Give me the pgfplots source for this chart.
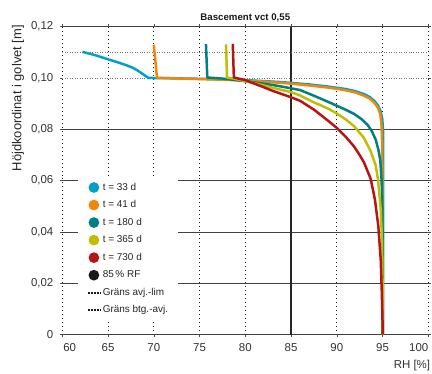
\documentclass[border=0pt]{standalone}
\usepackage{pgfplots}
\pgfplotsset{compat=1.18}
\usepackage{fontspec}
\setmainfont{Liberation Sans}
\definecolor{c33}{RGB}{0,160,200}
\definecolor{c41}{RGB}{240,135,10}
\definecolor{c180}{RGB}{0,128,128}
\definecolor{c365}{RGB}{192,190,0}
\definecolor{c730}{RGB}{185,20,20}
\begin{document}
\begin{tikzpicture}
\useasboundingbox (-62.3bp,-39.3bp) rectangle ++(432bp,374bp);
\begin{axis}[name=ax, at={(0,0)}, anchor=south west, scale only axis, width=366bp, height=308bp,
  xmin=60, xmax=100, ymin=0, ymax=0.12,
  xtick={60,65,70,75,80,85,90,95,100},
  xticklabels={\makebox[0pt][l]{\hspace*{1pt}60},65,70,75,80,85,90,95,\makebox[0pt][r]{100}},
  ytick={0,0.02,0.04,0.06,0.08,0.12},
  yticklabels={0,{0,02},{0,04},{0,06},{0,08},{0,12}},
  extra y ticks={0.10}, extra y tick labels={0{,}10},
  extra y tick style={grid=none},
  xmajorgrids, ymajorgrids,
  x grid style={black!90, line width=0.8pt, dash pattern=on 0.8pt off 3.2pt},
  y grid style={black!75, line width=0.8pt},
  axis line style={draw=none},
  tick align=outside, major tick length=2.5pt,
  tick style={black!70, line width=0.6pt},
  ticklabel style={font=\fontsize{11.5}{13}\selectfont, text=black!80},
  xticklabel style={yshift=-3pt},
  yticklabel style={xshift=-3pt},
  title={Bascement vct 0,55},
  every axis title/.style={at={(0.5,1)}, anchor=south, inner sep=0pt, yshift=5pt, font=\bfseries\fontsize{9.7}{11}\selectfont, text=black!90},
  xlabel={RH [\%]},
  every axis x label/.style={at={(axis description cs:1,0)}, anchor=north east, inner sep=0pt, yshift=-25pt, xshift=2pt, font=\fontsize{11.5}{13}\selectfont, text=black!80},
  ylabel={Höjdkoordinat i golvet [m]},
  every axis y label/.style={at={(axis description cs:-0.104,1.006)}, rotate=90, anchor=south east, inner sep=0pt, font=\fontsize{13}{15}\selectfont, text=black!85},
  legend style={at={(axis cs:61.7,0.0615)}, anchor=north west, draw=none, fill=white,
    inner xsep=9pt, inner ysep=4pt, font=\fontsize{10}{12}\selectfont, text=black!85,
    row sep=4.6pt, nodes={inner sep=1pt, text height=8pt, text depth=3pt}},
  legend cell align=left,
]
\addplot[black!85, line width=1.3pt, forget plot] coordinates {(85,0) (85,0.12)};
\addplot[black!55, line width=0.9pt, dash pattern=on 1pt off 1.5pt, forget plot] coordinates {(60,0.11) (100,0.11)};
\addplot[black!55, line width=0.9pt, dash pattern=on 1pt off 1.5pt, forget plot] coordinates {(60,0.10) (100,0.10)};

\addplot[c33, line width=2.5pt, line join=round, legend image code/.code={\path[fill=c33, draw=none] (0pt,0pt) circle (5.4pt);}] coordinates {
(62.2,0.1102) (63.5,0.1090) (65.0,0.1073) (66.0,0.1062) (67.0,0.1050) (67.7,0.1040) (68.2,0.1030) (68.7,0.1018) (69.1,0.1008) (69.4,0.1001) (70,0.1000) (72,0.0999) (75,0.0997) (78,0.0994) (80,0.0992) (82,0.0988) (84,0.0984) (85,0.0981) (87,0.0975) (89,0.0967) (90,0.0962) (91,0.0957) (92,0.0949) (93,0.0937) (93.6,0.0926) (94.1,0.0911) (94.5,0.0893) (94.8,0.0870) (94.97,0.0840) (95.05,0.0800) (95.05,0.0700) (95.05,0)};
\addlegendentry{t = 33 d}
\addplot[c41, line width=2.5pt, line join=round, legend image code/.code={\path[fill=c41, draw=none] (0pt,0pt) circle (5.4pt);}] coordinates {
(70.0,0.1130) (70.35,0.1001) (72,0.0999) (75,0.0996) (78,0.0993) (80,0.0990) (82,0.0986) (84,0.0981) (85,0.0978) (87,0.0971) (89,0.0963) (90,0.0958) (91,0.0952) (92,0.0944) (93,0.0931) (93.6,0.0920) (94.1,0.0904) (94.5,0.0884) (94.75,0.0860) (94.88,0.0820) (94.95,0.0750) (94.98,0.0600) (94.98,0)};
\addlegendentry{t = 41 d}
\addplot[c180, line width=2.5pt, line join=round, legend image code/.code={\path[fill=c180, draw=none] (0pt,0pt) circle (5.4pt);}] coordinates {
(75.7,0.1132) (75.85,0.1002) (77.5,0.0998) (79,0.0992) (81,0.0983) (83,0.0973) (85,0.0960) (86,0.0953) (87.5,0.0931) (89,0.0908) (90,0.0892) (91,0.0876) (91.9,0.0860) (92.7,0.0840) (93.33,0.0819) (93.8,0.0795) (94.25,0.0760) (94.55,0.0720) (94.75,0.0680) (94.9,0.0600) (94.97,0.0500) (95.0,0.0400) (95.0,0)};
\addlegendentry{t = 180 d}
\addplot[c365, line width=2.5pt, line join=round, legend image code/.code={\path[fill=c365, draw=none] (0pt,0pt) circle (5.4pt);}] coordinates {
(77.9,0.1131) (78.0,0.1002) (79,0.0996) (80.5,0.0984) (81.8,0.0973) (83,0.0962) (85,0.0945) (86,0.0932) (87.5,0.0905) (89,0.0882) (90,0.0862) (91,0.0838) (91.9,0.0812) (92.96,0.0767) (93.7,0.0715) (94.25,0.0660) (94.5,0.0605) (94.8,0.0490) (94.95,0.0360) (95.0,0.0200) (95.0,0)};
\addlegendentry{t = 365 d}
\addplot[c730, line width=2.5pt, line join=round, legend image code/.code={\path[fill=c730, draw=none] (0pt,0pt) circle (5.4pt);}] coordinates {
(78.63,0.1133) (78.75,0.1002) (80,0.0992) (81.8,0.0967) (83,0.0950) (85,0.0925) (86,0.0911) (87.5,0.0877) (89,0.0835) (90,0.0806) (91,0.0770) (91.87,0.0734) (92.5,0.0700) (92.96,0.0672) (93.7,0.0608) (94.17,0.0526) (94.54,0.0422) (94.8,0.0292) (94.92,0.0164) (95.0,0.0050) (95.0,0)};
\addlegendentry{t = 730 d}
\addlegendimage{legend image code/.code={\path[fill=black!90, draw=none] (0pt,0pt) circle (5.4pt);}}
\addlegendentry{85\,\% RF}
\addlegendimage{legend image code/.code={\draw[black!90, line width=1.8pt, dash pattern=on 1.8pt off 1.2pt] (-6pt,0pt) -- (7pt,0pt);}}
\addlegendentry{Gräns avj.-lim}
\addlegendimage{legend image code/.code={\draw[black!90, line width=1.8pt, dash pattern=on 1.8pt off 1.2pt] (-6pt,0pt) -- (7pt,0pt);}}
\addlegendentry{Gräns btg.-avj.}
\end{axis}
\end{tikzpicture}
\end{document}
